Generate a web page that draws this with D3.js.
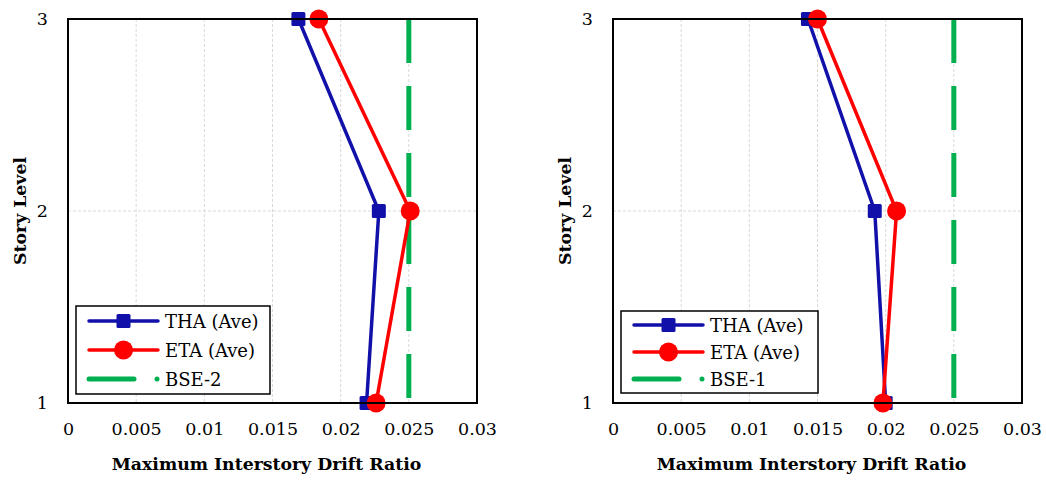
<!DOCTYPE html>
<html><head><meta charset="utf-8">
<script src="https://cdn.jsdelivr.net/npm/d3@7"></script>
<style>body{margin:0;background:#fff}</style>
</head><body><svg id="c" width="1046" height="484"></svg>
<script>
const levels = [1, 2, 3];
const xTicks = [0, 0.005, 0.01, 0.015, 0.02, 0.025, 0.03];
const xTickLabels = ["0", "0.005", "0.01", "0.015", "0.02", "0.025", "0.03"];
const yTicks = [1, 2, 3];
const thaLeft = [0.0219, 0.0228, 0.0169];
const etaLeft = [0.0226, 0.0251, 0.0184];
const thaRight = [0.0200, 0.0192, 0.0143];
const etaRight = [0.0198, 0.0208, 0.0150];
const limitLeft = 0.025, limitRight = 0.025;
const seriesNames = ["THA (Ave)", "ETA (Ave)"];
const limitNames = ["BSE-2", "BSE-1"];
const xTitle = "Maximum Interstory Drift Ratio";
const yTitle = "Story Level";

const BLUE = "#1111AA", RED = "#FF0000", GREEN = "#00B050";
const serif = "'DejaVu Serif', serif";
const svg = d3.select("#c");

function panel(o) {
  const g = svg.append("g");
  const x = d3.scaleLinear().domain([0, 0.03]).range([o.x0, o.x1]);
  const y = d3.scaleLinear().domain([1, 3]).range([o.y1, o.y0]);
  // grid
  g.selectAll(".vg").data(xTicks.slice(1, -1)).join("line")
    .attr("x1", d => x(d)).attr("x2", d => x(d)).attr("y1", o.y0).attr("y2", o.y1)
    .attr("stroke", "#d9d9d9").attr("stroke-width", 1).attr("stroke-dasharray", "3,2");
  g.selectAll(".hg").data(yTicks.slice(1, -1)).join("line")
    .attr("x1", o.x0).attr("x2", o.x1).attr("y1", d => y(d)).attr("y2", d => y(d))
    .attr("stroke", "#d9d9d9").attr("stroke-width", 1).attr("stroke-dasharray", "3,2");
  // axes text
  const xa = d3.axisBottom(x).tickValues(xTicks).tickFormat((d, i) => xTickLabels[i]).tickSize(0).tickPadding(20);
  const xg = g.append("g").attr("transform", `translate(0,${o.y1})`).call(xa);
  xg.select(".domain").remove();
  xg.selectAll("text").attr("font-family", serif).attr("font-size", 17.5).attr("fill", "#000");
  const ya = d3.axisLeft(y).tickValues(yTicks).tickFormat(d3.format("d")).tickSize(0).tickPadding(20);
  const yg = g.append("g").attr("transform", `translate(${o.x0},0)`).call(ya);
  yg.select(".domain").remove();
  yg.selectAll("text").attr("font-family", serif).attr("font-size", 17.5).attr("fill", "#000");
  // titles
  g.append("text").attr("x", (o.x0 + o.x1) / 2 - 6).attr("y", 470)
    .attr("text-anchor", "middle").attr("font-family", serif).attr("font-weight", "bold")
    .attr("font-size", 17.3).text(xTitle);
  g.append("text").attr("transform", `translate(${o.yTitleX},${(o.y0 + o.y1) / 2}) rotate(-90)`)
    .attr("text-anchor", "middle").attr("font-family", serif).attr("font-weight", "bold")
    .attr("font-size", 17.3).text(yTitle);
  // limit line
  g.append("line").attr("x1", x(o.limit)).attr("x2", x(o.limit)).attr("y1", y(3)).attr("y2", y(1) - 5)
    .attr("stroke", GREEN).attr("stroke-width", 5).attr("stroke-dasharray", "44,23");
  // series
  const line = d3.line().x(d => x(d[0])).y(d => y(d[1]));
  const tha = o.tha.map((v, i) => [v, levels[i]]);
  const eta = o.eta.map((v, i) => [v, levels[i]]);
  g.append("path").attr("d", line(tha)).attr("fill", "none").attr("stroke", BLUE).attr("stroke-width", 3.5);
  g.append("path").attr("d", line(eta)).attr("fill", "none").attr("stroke", RED).attr("stroke-width", 3.5);
  g.selectAll(".sq").data(tha).join("rect")
    .attr("x", d => x(d[0]) - 7).attr("y", d => y(d[1]) - 7).attr("width", 14).attr("height", 14)
    .attr("rx", 1.5).attr("fill", BLUE);
  g.selectAll(".ci").data(eta).join("circle")
    .attr("cx", d => x(d[0])).attr("cy", d => y(d[1])).attr("r", 9.5).attr("fill", RED);
  // frame
  g.append("rect").attr("x", o.x0).attr("y", o.y0).attr("width", o.x1 - o.x0).attr("height", o.y1 - o.y0)
    .attr("fill", "none").attr("stroke", "#000").attr("stroke-width", 2);
  // legend
  const L = o.leg;
  g.append("rect").attr("x", L.x).attr("y", L.y).attr("width", L.w).attr("height", L.h)
    .attr("fill", "#fff").attr("stroke", "#000").attr("stroke-width", 1.5);
  const rows = L.rows;
  const lx0 = L.x + 13, lx1 = L.x + 82, lm = (lx0 + lx1) / 2;
  g.append("line").attr("x1", lx0).attr("x2", lx1).attr("y1", rows[0]).attr("y2", rows[0]).attr("stroke", BLUE).attr("stroke-width", 3.5).attr("stroke-linecap", "round");
  g.append("rect").attr("x", lm - 7).attr("y", rows[0] - 7).attr("width", 14).attr("height", 14).attr("rx", 1.5).attr("fill", BLUE);
  g.append("line").attr("x1", lx0).attr("x2", lx1).attr("y1", rows[1]).attr("y2", rows[1]).attr("stroke", RED).attr("stroke-width", 3.5).attr("stroke-linecap", "round");
  g.append("circle").attr("cx", lm).attr("cy", rows[1]).attr("r", 9.5).attr("fill", RED);
  g.append("line").attr("x1", lx0).attr("x2", lx0 + 45).attr("y1", rows[2]).attr("y2", rows[2]).attr("stroke", GREEN).attr("stroke-width", 5).attr("stroke-linecap", "round");
  g.append("circle").attr("cx", lx0 + 68).attr("cy", rows[2]).attr("r", 2.5).attr("fill", GREEN);
  const names = [seriesNames[0], seriesNames[1], o.limitName];
  g.selectAll(".lt").data(names).join("text")
    .attr("x", L.x + 89).attr("y", (d, i) => rows[i] + 6.5)
    .attr("font-family", serif).attr("font-size", 18).attr("fill", "#000").text(d => d);
}

panel({x0: 68, x1: 477, y0: 19, y1: 403, tha: thaLeft, eta: etaLeft, limit: limitLeft, limitName: limitNames[0],
  yTitleX: 26, leg: {x: 76, y: 306, w: 194, h: 88, rows: [321, 350, 379]}});
panel({x0: 613, x1: 1022, y0: 19, y1: 403, tha: thaRight, eta: etaRight, limit: limitRight, limitName: limitNames[1],
  yTitleX: 571, leg: {x: 621, y: 311, w: 197, h: 82, rows: [325, 352, 379]}});
</script></body></html>
